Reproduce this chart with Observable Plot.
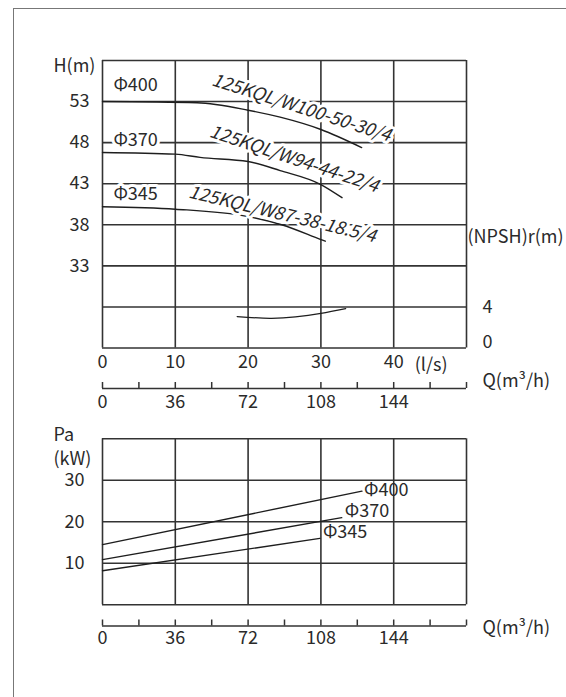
<!DOCTYPE html>
<html>
<head>
<meta charset="utf-8">
<script src="https://cdn.jsdelivr.net/npm/d3@7"></script>
<script src="https://cdn.jsdelivr.net/npm/@observablehq/plot@0.6"></script>
<style>
  html, body { margin: 0; padding: 0; background: #fff; }
  #wrap { position: relative; width: 566px; height: 697px; overflow: hidden; }
  .slot { position: absolute; left: 0; }
  #border { position: absolute; left: 13px; top: 8px; width: 700px; height: 800px;
            border-left: 1.5px solid #777; border-top: 1.5px solid #777; pointer-events: none; z-index: 5; }
</style>
</head>
<body>
<div id="wrap">
  <div id="topChart" class="slot" style="top:0px"></div>
  <div id="topStrip" class="slot" style="top:370px"></div>
  <div id="powChart" class="slot" style="top:420px"></div>
  <div id="powStrip" class="slot" style="top:610px"></div>
  <div id="border"></div>
</div>
<script>
// ---------- data ----------
const flowGridLs   = [0, 10, 20, 30, 40, 50];
const flowTicksLs  = [0, 10, 20, 30, 40];
const headGrid     = [23, 28, 33, 38, 43, 48, 53, 58];
const headTicks    = [33, 38, 43, 48, 53];
const npshTicks    = [0, 4];
const flowGridM3h  = [0, 36, 72, 108, 144, 180];
const flowMinorM3h = [0, 18, 36, 54, 72, 90, 108, 126, 144, 162, 180];
const flowTicksM3h = [0, 36, 72, 108, 144];
const powerGrid    = [0, 10, 20, 30, 40];
const powerTicks   = [10, 20, 30];

const impellers = ["Φ400", "Φ370", "Φ345"];
const models = ["125KQL/W100-50-30/4", "125KQL/W94-44-22/4", "125KQL/W87-38-18.5/4"];

// H-Q curves (Q in l/s, H in m)
const q400 = [0, 13, 20, 24.4, 30, 35.6];
const h400 = [53.0, 52.85, 51.95, 51.1, 49.6, 47.4];
const q370 = [0, 10, 13.4, 20, 24.4, 30, 32.9];
const h370 = [46.8, 46.6, 46.2, 45.7, 44.6, 42.9, 41.3];
const q345 = [0, 10, 20, 24.6, 30, 30.6];
const h345 = [40.2, 39.9, 39.0, 38.0, 36.2, 36.0];

// NPSHr curve (Q in l/s, NPSH in m)
const qNpsh = [18.5, 23, 26.5, 30, 33.4];
const npsh  = [3.06, 2.89, 3.03, 3.38, 3.84];

// Power curves (Q in m3/h, P in kW)
const pq400 = [0, 128.3];
const p400  = [14.5, 27.4];
const pq370 = [0, 118.3];
const p370  = [10.9, 21.0];
const pq345 = [0, 107.5];
const p345  = [8.2, 16.0];

// ---------- helpers ----------
const font = "'Noto Sans CJK SC', 'Noto Sans', sans-serif";
const FS = 18;
const ink = "#2a2a2a";
const gridC = "#333";
const series = (qs, vs) => qs.map((q, i) => ({q, v: vs[i]}));
const npshToH = n => 23 + n * 1.25;   // right axis: 0 -> 23, 4 -> 28
const baseStyle = {fontFamily: font, fontSize: FS + "px", color: ink, background: "transparent", overflow: "visible"};
const halo = {stroke: "white", strokeWidth: 6, paintOrder: "stroke", fill: ink};

// ---------- top chart: H / NPSH vs Q ----------
const hCurves = [series(q400, h400), series(q370, h370), series(q345, h345)];
const phiDy = [-16, -12, -12];
const modelPos = [
  {x: 15.1, y: 55.7, r: 17.7},
  {x: 14.8, y: 49.4, r: 18.4},
  {x: 11.9, y: 42.0, r: 13.5}
];

const topChart = Plot.plot({
  width: 566, height: 370,
  marginLeft: 102, marginRight: 100, marginTop: 60, marginBottom: 22.5,
  x: {domain: [0, 50], label: null},
  y: {domain: [23, 58], label: null},
  style: baseStyle,
  marks: [
    Plot.ruleX(flowGridLs, {stroke: gridC, strokeWidth: 1.6}),
    Plot.ruleY(headGrid, {stroke: gridC, strokeWidth: 1.6}),
    ...hCurves.map(c => Plot.line(c, {x: "q", y: "v", curve: "monotone-x", stroke: "#1e1e1e", strokeWidth: 1.4})),
    Plot.line(series(qNpsh, npsh), {x: "q", y: d => npshToH(d.v), curve: "natural", stroke: "#1e1e1e", strokeWidth: 1.3}),
    Plot.axisY(headTicks, {anchor: "left", tickSize: 0, tickPadding: 13, label: null, fill: ink}),
    Plot.axisX(flowTicksLs, {anchor: "bottom", tickSize: 0, tickPadding: 7.5, label: null, fill: ink}),
    Plot.axisY([npshToH(npshTicks[1])], {anchor: "right", tickSize: 0, tickPadding: 16, label: null, fill: ink,
      tickFormat: d => String(Math.round((d - 23) / 1.25))}),
    Plot.axisY([npshToH(npshTicks[0])], {anchor: "right", tickSize: 0, tickPadding: 16, label: null, fill: ink, dy: -6,
      tickFormat: d => String(Math.round((d - 23) / 1.25))}),
    ...impellers.map((t, i) => Plot.text([t], {x: 1.5, y: hCurves[i][0].v, text: d => d, dy: phiDy[i],
      textAnchor: "start", fontSize: FS, ...halo})),
    ...models.map((t, i) => Plot.text([t], {x: modelPos[i].x, y: modelPos[i].y, text: d => d, rotate: modelPos[i].r,
      textAnchor: "start", lineAnchor: "middle", fontStyle: "italic", fontSize: FS, ...halo})),
    Plot.text(["H(m)"], {frameAnchor: "top-left", text: d => d, textAnchor: "start", lineAnchor: "middle", dx: -49, dy: 5.5, fontSize: FS, fill: ink}),
    Plot.text(["(NPSH)r(m)"], {frameAnchor: "right", text: d => d, textAnchor: "start", lineAnchor: "middle", dx: 1, dy: 33, fontSize: FS, fill: ink}),
    Plot.text(["(l/s)"], {x: 40, frameAnchor: "bottom", text: d => d, textAnchor: "start", lineAnchor: "middle", dx: 21, dy: 17.5, fontSize: FS, fill: ink})
  ]
});
document.getElementById("topChart").append(topChart);

// ---------- m3/h strips ----------
function strip(marginTop, pad, labelDy) {
  return Plot.plot({
    width: 566, height: 50,
    marginLeft: 102, marginRight: 100, marginTop, marginBottom: 50 - marginTop - 6,
    x: {domain: [0, 180], label: null},
    y: {domain: [0, 1], axis: null},
    style: baseStyle,
    marks: [
      Plot.ruleY([0], {stroke: gridC, strokeWidth: 1.5}),
      Plot.tickX(flowMinorM3h, {x: d => d, stroke: gridC, strokeWidth: 1.5}),
      Plot.axisX(flowTicksM3h, {anchor: "bottom", tickSize: 0, tickPadding: pad, label: null, fill: ink}),
      Plot.text(["Q(m³/h)"], {frameAnchor: "right", text: d => d, textAnchor: "start", lineAnchor: "middle", dx: 16, dy: labelDy, fontSize: FS, fill: ink})
    ]
  });
}
document.getElementById("topStrip").append(strip(12, 7, -4));

// ---------- power chart ----------
const pLines = [series(pq400, p400), series(pq370, p370), series(pq345, p345)];
const pLabOff = [{dx: 2, dy: -1}, {dx: 3, dy: -6}, {dx: 3, dy: -6}];
const powChart = Plot.plot({
  width: 566, height: 190,
  marginLeft: 102, marginRight: 100, marginTop: 18.3, marginBottom: 5.7,
  x: {domain: [0, 180], label: null, axis: null},
  y: {domain: [0, 40], label: null},
  style: baseStyle,
  marks: [
    Plot.ruleX(flowGridM3h, {stroke: gridC, strokeWidth: 1.6}),
    Plot.ruleY(powerGrid, {stroke: gridC, strokeWidth: 1.6}),
    ...pLines.map(c => Plot.line(c, {x: "q", y: "v", stroke: "#1e1e1e", strokeWidth: 1.4})),
    ...impellers.map((t, i) => Plot.text([pLines[i][pLines[i].length - 1]], {x: "q", y: "v", text: () => t,
      textAnchor: "start", dx: pLabOff[i].dx, dy: pLabOff[i].dy, fontSize: FS, fill: ink})),
    Plot.axisY(powerTicks, {anchor: "left", tickSize: 0, tickPadding: 18, label: null, fill: ink}),
    Plot.text(["Pa"], {frameAnchor: "top-left", text: d => d, textAnchor: "start", lineAnchor: "middle", dx: -49, dy: -4, fontSize: FS, fill: ink}),
    Plot.text(["(kW)"], {frameAnchor: "top-left", text: d => d, textAnchor: "start", lineAnchor: "middle", dx: -49, dy: 20, fontSize: FS, fill: ink})
  ]
});
document.getElementById("powChart").append(powChart);
document.getElementById("powStrip").append(strip(9.5, 5, 5));
</script>
</body>
</html>
